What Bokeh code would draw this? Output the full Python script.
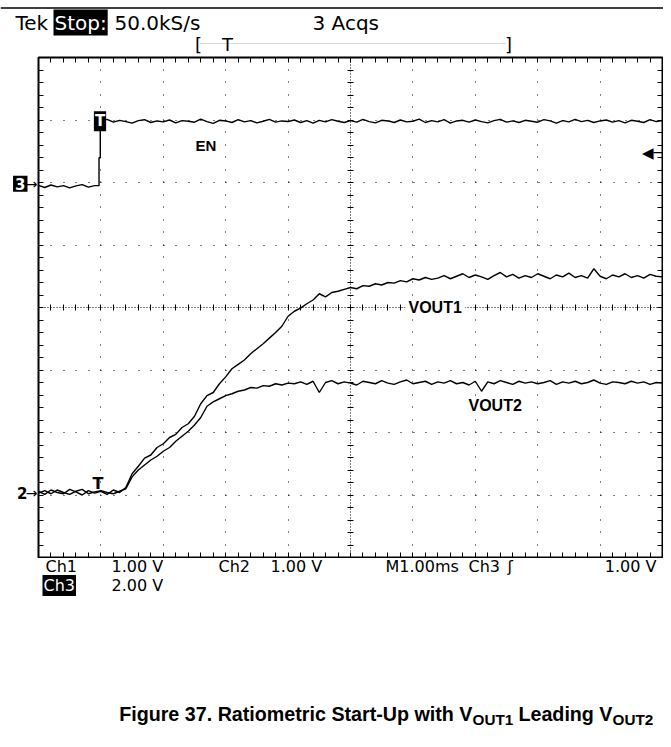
import numpy as np
from bokeh.plotting import figure
from bokeh.layouts import column, row
from bokeh.models import Range1d, Label, Grid, FixedTicker, PolyAnnotation, Span
from bokeh.embed import file_html
from bokeh.resources import INLINE

# ---------------- data ----------------
time_ms = [round(-1.0 + 0.1 * i, 1) for i in range(101)]   # sample times, ms (trigger at 0)

# Ch3 : EN (V), 2 V/div
en_low_t = time_ms[:10]
en_low_v = [-0.05, -0.12, -0.04, -0.10, -0.06, -0.13, -0.07, -0.03, -0.11, -0.06]
en_step_t = [-0.03, -0.03, -0.01, -0.01]
en_step_v = [-0.06, 0.83, 0.83, 1.98]
en_high_t = time_ms[10:]
en_high_v = [2.00, 2.06, 1.97, 2.03, 1.99, 1.94, 2.02, 2.05, 1.96, 2.01,
             1.98, 2.04, 1.95, 2.02, 2.00, 1.97, 2.07, 1.99, 1.93, 2.03,
             2.01, 1.96, 2.05, 1.98, 2.02, 1.95, 2.00, 2.06, 1.97, 2.01,
             1.99, 2.04, 1.96, 2.02, 1.94, 2.03, 1.98, 2.05, 2.00, 1.96,
             2.02, 1.97, 2.06, 1.99, 1.95, 2.03, 2.01, 1.96, 2.04, 1.98,
             2.00, 2.07, 1.96, 2.02, 1.98, 2.05, 1.94, 2.01, 2.03, 1.97,
             2.04, 1.99, 1.95, 2.02, 2.06, 1.97, 2.01, 1.96, 2.03, 2.00,
             1.97, 2.05, 2.01, 1.94, 2.02, 1.98, 2.06, 1.99, 2.03, 1.96,
             2.01, 2.04, 1.97, 2.02, 1.95, 2.03, 2.00, 1.96, 2.05, 1.99, 2.02]

# Ch1 : VOUT1 (V), 1 V/div
vout1 = [0.02, -0.03, 0.04, 0.00, -0.02, 0.05, 0.01, -0.04, 0.03, -0.01,
         0.02, -0.03, 0.04, 0.00,
         0.08, 0.30, 0.42, 0.55, 0.60, 0.72, 0.78, 0.88, 0.93, 1.04,
         1.10, 1.22, 1.42, 1.55, 1.60, 1.74, 1.85, 1.98, 2.05, 2.12,
         2.22, 2.30, 2.38, 2.47, 2.56, 2.66, 2.82, 2.90, 2.95, 3.02,
         3.08, 3.18, 3.13, 3.20, 3.22, 3.25, 3.28, 3.26, 3.31, 3.30,
         3.34, 3.32, 3.36, 3.35, 3.39, 3.37, 3.42, 3.40, 3.44, 3.41,
         3.43, 3.47, 3.42, 3.46, 3.50, 3.44, 3.48, 3.45, 3.41, 3.47,
         3.52, 3.45, 3.49, 3.43, 3.47, 3.44, 3.50, 3.46, 3.42, 3.48,
         3.45, 3.51, 3.44, 3.47, 3.43, 3.58, 3.46, 3.42, 3.48, 3.45,
         3.50, 3.44, 3.47, 3.43, 3.49, 3.46, 3.45]

# Ch2 : VOUT2 (V), 1 V/div
vout2 = [-0.01, 0.03, -0.02, 0.04, 0.00, -0.03, 0.02, 0.05, -0.02, 0.01,
         0.03, 0.00, -0.02, 0.02,
         0.06, 0.25, 0.36, 0.44, 0.52, 0.58, 0.66, 0.72, 0.82, 0.90,
         0.98, 1.08, 1.20, 1.38, 1.45, 1.50, 1.55, 1.58, 1.62, 1.64,
         1.68, 1.67, 1.71, 1.70, 1.74, 1.72, 1.75,
         1.74, 1.77, 1.73, 1.78, 1.60, 1.76, 1.79, 1.74, 1.77, 1.75,
         1.72, 1.78, 1.76, 1.74, 1.79, 1.75, 1.73, 1.77, 1.80, 1.74,
         1.76, 1.78, 1.73, 1.77, 1.75, 1.79, 1.74, 1.76, 1.72, 1.78,
         1.62, 1.77, 1.74, 1.79, 1.76, 1.73, 1.78, 1.75, 1.77, 1.74,
         1.76, 1.79, 1.73, 1.77, 1.75, 1.78, 1.74, 1.76, 1.80, 1.75,
         1.73, 1.77, 1.76, 1.74, 1.78, 1.75, 1.77, 1.73, 1.76, 1.75]

trigger_level = 1.00          # V, Ch3 rising edge
ch12_volts_per_div = 1.0
ch3_volts_per_div = 2.0
ch12_ground_div = 1.04        # divisions above screen bottom
ch3_ground_div = 5.98

SCOPE = "DejaVu Sans"
ARIAL = "Liberation Sans"


def lab(fig, x, y, text, size=16, font=SCOPE, align="left", base="middle", color="black",
        bg=None, bold=False, rng=None, pad=0):
    kw = dict(x=x, y=y, text=text, text_font=font, text_font_size=f"{size}px",
              text_align=align, text_baseline=base, text_color=color,
              text_font_style="bold" if bold else "normal")
    if bg is not None:
        kw.update(background_fill_color=bg, background_fill_alpha=1.0, padding=pad)
    if rng is not None:
        kw["y_range_name"] = rng
    fig.add_layout(Label(**kw))


def blank(w, h, xr, yr):
    f = figure(width=w, height=h, output_backend="svg", toolbar_location=None,
               x_range=xr, y_range=yr, x_axis_location=None, y_axis_location=None,
               min_border=0)
    f.center = []
    f.outline_line_color = None
    f.background_fill_color = "white"
    f.border_fill_color = "white"
    return f


def ch_ranges():
    return {
        "ch12": Range1d(-ch12_ground_div * ch12_volts_per_div, (8 - ch12_ground_div) * ch12_volts_per_div),
        "ch3": Range1d(-ch3_ground_div * ch3_volts_per_div, (8 - ch3_ground_div) * ch3_volts_per_div),
    }


# ---------------- main graticule figure ----------------
p = figure(width=626, height=502, output_backend="svg", toolbar_location=None,
           x_range=Range1d(-1, 9), y_range=Range1d(0, 8),
           x_axis_location=None, y_axis_location=None,
           min_border_left=1, min_border_right=1, min_border_top=1, min_border_bottom=1)
p.center = []
p.outline_line_color = "black"
p.outline_line_width = 2
p.outline_line_alpha = 1
p.background_fill_color = "white"
p.border_fill_color = "white"
p.extra_y_ranges = ch_ranges()

dots = "1 11 1 12 1 11 1 12 1 11 1 12 1 11 1 12 1 11 1 12"
p.add_layout(Grid(dimension=0, ticker=FixedTicker(ticks=[0, 1, 2, 3, 5, 6, 7, 8]),
                  grid_line_color="black", grid_line_dash=dots, grid_line_width=1))
p.add_layout(Grid(dimension=1, ticker=FixedTicker(ticks=[1, 2, 3, 5, 6, 7]),
                  grid_line_color="black", grid_line_dash=dots, grid_line_width=1))
p.add_layout(Grid(dimension=0, ticker=FixedTicker(ticks=[4]),
                  grid_line_color="black", grid_line_dash="1 2", grid_line_width=1))
p.add_layout(Grid(dimension=1, ticker=FixedTicker(ticks=[4]),
                  grid_line_color="black", grid_line_dash="1 2", grid_line_width=1))
minor_x = [round(v, 2) for v in np.arange(-0.8, 9.0, 0.2)]
minor_y = [round(v, 2) for v in np.arange(0.2, 8.0, 0.2)]
p.add_layout(Grid(dimension=1, ticker=FixedTicker(ticks=minor_y),
                  grid_line_color="black", grid_line_dash="0 309 6 2000", grid_line_width=1))
p.add_layout(Grid(dimension=0, ticker=FixedTicker(ticks=minor_x),
                  grid_line_color="black", grid_line_dash="0 247 6 2000", grid_line_width=1))
p.add_layout(Grid(dimension=0, ticker=FixedTicker(ticks=minor_x),
                  grid_line_color="black", grid_line_dash="5 490 5 2000", grid_line_width=1))
p.add_layout(Grid(dimension=1, ticker=FixedTicker(ticks=minor_y),
                  grid_line_color="black", grid_line_dash="5 614 5 2000", grid_line_width=1))

p.line(en_low_t + en_step_t + en_high_t, en_low_v + en_step_v + en_high_v,
       y_range_name="ch3", line_color="black", line_width=1.4)
p.line(time_ms, vout1, y_range_name="ch12", line_color="black", line_width=1.4)
p.line(time_ms, vout2, y_range_name="ch12", line_color="black", line_width=1.4)


def tx(px):
    return -1 + (px - 38) / 62.4


def dy(py):
    return (557 - py) / 62.5


lab(p, tx(99.5), en_high_v[0], "T", size=15, color="white", bg="black", pad=1, align="center", bold=True, rng="ch3")
lab(p, tx(97.5), 0.0, "T", size=16, align="center", base="bottom", bold=True, rng="ch12")
lab(p, 9, trigger_level, "◀─", align="right", size=15, rng="ch3")
lab(p, tx(195), dy(145), "EN", size=15, font=ARIAL, bold=True)
lab(p, tx(405), dy(307), "VOUT1", size=16, font=ARIAL, bold=True, bg="white", pad=3)
lab(p, tx(468), dy(405), "VOUT2", size=16, font=ARIAL, bold=True)

# ---------------- left strip (ground markers) ----------------
left = blank(37, 502, Range1d(0, 37), Range1d(0, 8))
left.min_border_top = 1
left.min_border_bottom = 1
left.extra_y_ranges = ch_ranges()
lab(left, 27, 0, "3", size=15, color="white", bg="black", pad=2, align="right", bold=True, rng="ch3")
lab(left, 37, 0, "→", align="right", size=14, rng="ch3")
lab(left, 27, 0, "2", size=15, align="right", bold=True, rng="ch12")
lab(left, 37, 0, "→", align="right", size=14, rng="ch12")

# ---------------- header ----------------
head = blank(663, 56, Range1d(0, 663), Range1d(56, 0))
head.add_layout(Span(location=7.5, dimension="width", line_color="black", line_width=1.5))
lab(head, 15, 22, "Tek", size=20)
lab(head, 53, 22, "Stop:", size=20, color="white", bg="black", pad=1)
lab(head, 114, 22, "50.0kS/s", size=20)
lab(head, 312, 22, "3 Acqs", size=20)
head.add_layout(PolyAnnotation(xs=[200, 506], ys=[43, 43], fill_alpha=0,
                               line_color="black", line_width=1, line_dash="1 1"))
lab(head, 198, 44, "[", size=18, align="center")
lab(head, 227, 44, "T", size=18, align="center")
lab(head, 508, 44, "]", size=18, align="center")

# ---------------- footer ----------------
foot = blank(663, 181, Range1d(0, 663), Range1d(739, 558))
lab(foot, 45, 566, "Ch1")
lab(foot, 111, 566, "1.00 V")
lab(foot, 218, 566, "Ch2")
lab(foot, 270, 566, "1.00 V")
lab(foot, 385, 566, "M1.00ms")
lab(foot, 468, 566, "Ch3")
lab(foot, 507, 566, "ʃ")
lab(foot, 656, 566, "1.00 V", align="right")
lab(foot, 42, 585, "Ch3", color="white", bg="black", pad=1)
lab(foot, 111, 585, "2.00 V")

lab(foot, 472, 713, "Figure 37. Ratiometric Start-Up with V", size=19.7, font=ARIAL, bold=True, align="right")
lab(foot, 472, 719, "OUT1", size=15.3, font=ARIAL, bold=True)
lab(foot, 612, 713, "Leading V", size=19.7, font=ARIAL, bold=True, align="right")
lab(foot, 612, 719, "OUT2", size=15.3, font=ARIAL, bold=True)

layout = column(head, row(left, p), foot)
open("out.html", "w").write(file_html(layout, INLINE))
